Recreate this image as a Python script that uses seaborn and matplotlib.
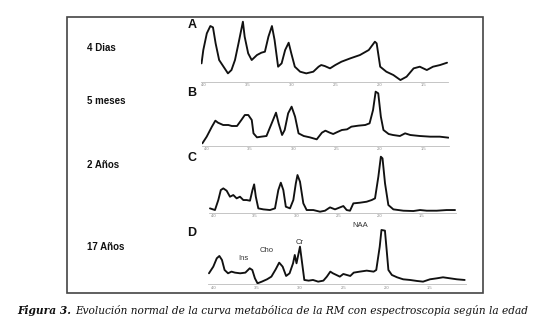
import matplotlib
matplotlib.use("Agg")
import matplotlib.pyplot as plt
import seaborn as sns
import pandas as pd

sns.set_theme(style="white")
plt.rcParams['font.family'] = ['Liberation Sans', 'DejaVu Sans']

# spectra: chemical shift (ppm) and relative intensity
ppm_a = [4.02, 4.00, 3.96, 3.92, 3.89, 3.86, 3.82, 3.77, 3.72, 3.68,
         3.64, 3.60, 3.55, 3.53, 3.49, 3.45, 3.39, 3.34, 3.30, 3.26,
         3.22, 3.19, 3.15, 3.11, 3.07, 3.03, 3.00, 2.96, 2.90, 2.83,
         2.75, 2.69, 2.66, 2.62, 2.56, 2.50, 2.43, 2.33, 2.22, 2.12,
         2.05, 2.03, 1.99, 1.92, 1.84, 1.76, 1.69, 1.61, 1.54, 1.46,
         1.39, 1.31, 1.23]
int_a = [52, 92, 142, 164, 160, 112, 62, 42, 22, 32,
         62, 112, 177, 132, 82, 62, 77, 84, 87, 132,
         164, 122, 42, 52, 92, 114, 82, 42, 27, 22,
         27, 42, 47, 44, 37, 47, 57, 67, 77, 92,
         117, 112, 42, 27, 17, 2, 12, 37, 42, 32,
         42, 47, 54]

ppm_b = [4.05, 4.00, 3.94, 3.90, 3.87, 3.81, 3.75, 3.71, 3.65, 3.60,
         3.56, 3.52, 3.48, 3.46, 3.42, 3.37, 3.31, 3.25, 3.20, 3.17,
         3.13, 3.10, 3.06, 3.02, 2.98, 2.94, 2.88, 2.81, 2.73, 2.67,
         2.63, 2.58, 2.54, 2.50, 2.44, 2.38, 2.33, 2.25, 2.17, 2.12,
         2.08, 2.05, 2.02, 1.99, 1.96, 1.90, 1.85, 1.77, 1.71, 1.65,
         1.54, 1.42, 1.31, 1.21]
int_b = [5, 25, 55, 73, 67, 60, 60, 57, 57, 75,
         90, 90, 75, 35, 23, 25, 27, 65, 97, 65,
         30, 45, 95, 115, 85, 35, 27, 23, 17, 37,
         43, 37, 33, 38, 45, 47, 55, 58, 60, 65,
         105, 160, 155, 85, 45, 33, 30, 27, 35, 30,
         27, 25, 25, 22]

ppm_c = [4.04, 3.98, 3.94, 3.91, 3.88, 3.84, 3.80, 3.76, 3.72, 3.68,
         3.64, 3.60, 3.56, 3.53, 3.51, 3.49, 3.46, 3.40, 3.32, 3.26,
         3.22, 3.19, 3.16, 3.13, 3.08, 3.04, 3.01, 2.99, 2.96, 2.92,
         2.88, 2.80, 2.72, 2.66, 2.60, 2.54, 2.48, 2.44, 2.40, 2.36,
         2.32, 2.24, 2.16, 2.10, 2.06, 2.02, 1.99, 1.97, 1.94, 1.90,
         1.84, 1.72, 1.60, 1.52, 1.44, 1.32, 1.20, 1.10]
int_c = [10, 5, 35, 65, 70, 63, 45, 50, 40, 45,
         35, 35, 33, 65, 82, 45, 10, 7, 5, 10,
         65, 87, 65, 15, 10, 35, 85, 110, 90, 25,
         5, 5, 0, 3, 13, 7, 13, 17, 5, 3,
         25, 27, 30, 35, 40, 105, 165, 160, 85, 20,
         7, 3, 2, 5, 3, 3, 5, 5]

ppm_d = [4.05, 4.00, 3.96, 3.93, 3.90, 3.87, 3.83, 3.79, 3.75, 3.69,
         3.63, 3.58, 3.55, 3.52, 3.49, 3.44, 3.38, 3.33, 3.28, 3.24,
         3.20, 3.16, 3.12, 3.08, 3.06, 3.04, 3.02, 3.00, 2.98, 2.95,
         2.90, 2.85, 2.79, 2.73, 2.69, 2.65, 2.62, 2.58, 2.54, 2.50,
         2.46, 2.42, 2.38, 2.31, 2.23, 2.15, 2.12, 2.08, 2.06, 2.02,
         2.00, 1.98, 1.94, 1.88, 1.81, 1.73, 1.65, 1.58, 1.50, 1.42,
         1.35, 1.27, 1.19, 1.10]
int_d = [30, 50, 75, 82, 70, 40, 30, 35, 32, 30,
         32, 45, 40, 15, 0, 5, 12, 20, 42, 62,
         50, 22, 30, 60, 85, 60, 85, 110, 70, 10,
         8, 10, 5, 8, 20, 35, 30, 25, 20, 28,
         25, 22, 32, 35, 38, 35, 40, 110, 160, 158,
         100, 40, 25, 18, 12, 10, 7, 5, 12, 15,
         18, 15, 12, 10]

panel_letters = ['A', 'B', 'C', 'D']
age_labels = ['4 Dias', '5 meses', '2 Años', '17 Años']
tick_ppm = [4.0, 3.5, 3.0, 2.5, 2.0, 1.5]

metab_names = ['Ins', 'Cho', 'Cr', 'NAA']
metab_ppm = [3.65, 3.38, 3.00, 2.31]
metab_height = [75, 98, 122, 172]

caption_bold = 'Figura 3.'
caption_rest = 'Evolución normal de la curva metabólica de la RM con espectroscopia según la edad'

spectra = [(ppm_a, int_a), (ppm_b, int_b), (ppm_c, int_c), (ppm_d, int_d)]

# layout in pixels: x of 4.0 tick, x of 1.5 tick, baseline y, xlim
layout = [
    dict(x40=203.3, x15=423.3, base=80.7, xlim=(4.03, 1.22), label_y=48, letter_y=25),
    dict(x40=206.7, x15=423.3, base=145.0, xlim=(4.06, 1.20), label_y=101, letter_y=93),
    dict(x40=213.3, x15=421.7, base=211.7, xlim=(4.05, 1.09), label_y=165, letter_y=158),
    dict(x40=213.3, x15=430.0, base=283.3, xlim=(4.06, 1.09), label_y=247, letter_y=233),
]

W, H = 550, 336
fig = plt.figure(figsize=(W / 100, H / 100), dpi=100)
fig.patch.set_facecolor('white')

YMAX = 185
for i, ((ppm, inten), lay) in enumerate(zip(spectra, layout)):
    scale = (lay['x15'] - lay['x40']) / 2.5
    left = lay['x40'] - (lay['xlim'][0] - 4.0) * scale
    right = lay['x40'] + (4.0 - lay['xlim'][1]) * scale
    bottom = lay['base'] + 1
    top = lay['base'] - YMAX / 3
    ax = fig.add_axes([left / W, 1 - bottom / H, (right - left) / W, (bottom - top) / H])
    df = pd.DataFrame({'ppm': ppm, 'intensity': inten})
    sns.lineplot(data=df, x='ppm', y='intensity', ax=ax, color='#111111',
                 linewidth=1.35, sort=False)
    ax.set_xlim(*lay['xlim'])
    ax.set_ylim(-3, YMAX)
    ax.set_facecolor('none')
    for s in ['top', 'left', 'right']:
        ax.spines[s].set_visible(False)
    ax.spines['bottom'].set_color('#bbbbbb')
    ax.spines['bottom'].set_linewidth(0.6)
    ax.set_yticks([])
    ax.set_xticks(tick_ppm)
    ax.set_xticklabels([f'{t:.1f}' for t in tick_ppm], fontsize=3, color='#888888')
    ax.tick_params(axis='x', length=0, pad=1)
    ax.set_xlabel('')
    ax.set_ylabel('')

    fig.text(192 / W, 1 - lay['letter_y'] / H, panel_letters[i], fontsize=9,
             fontweight='bold', ha='center', va='center', color='#111111')
    fig.text(87 / W, 1 - lay['label_y'] / H, age_labels[i], fontsize=7,
             fontweight='bold', ha='left', va='center', color='#111111')

    if i == 3:
        for name, px, py in zip(metab_names, metab_ppm, metab_height):
            ax.text(px, py, name, fontsize=5.5, ha='center', va='center',
                    color='#333333', clip_on=False)

# outer frame
frame = plt.Rectangle((66.7 / W, 1 - 292.5 / H), (483 - 66.7) / W, (292.5 - 16.7) / H,
                      transform=fig.transFigure, fill=False, edgecolor='#444444',
                      linewidth=1.2)
fig.add_artist(frame)

# caption
renderer = fig.canvas.get_renderer()
t1 = fig.text(17 / W, 1 - 310 / H, caption_bold, fontsize=7.7, fontweight='bold',
              fontstyle='italic', family='DejaVu Serif', ha='left', va='center',
              color='#111111')
bb = t1.get_window_extent(renderer)
fig.text((bb.x1 + 4) / W, 1 - 310 / H, caption_rest, fontsize=7.6,
         fontstyle='italic', family='DejaVu Serif', ha='left', va='center',
         color='#111111')

fig.savefig('out.png', dpi=100)
